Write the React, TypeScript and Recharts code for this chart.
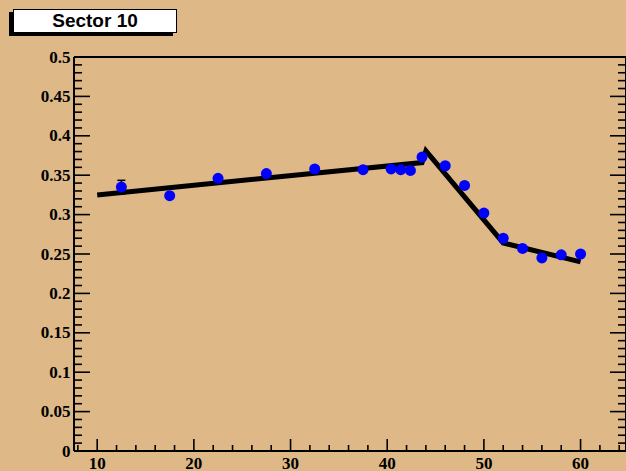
import React from "react";
import { ComposedChart, XAxis, YAxis, Scatter, Line, ErrorBar } from "recharts";

// measured points (blue markers)
const POINT_X = [12.5, 17.5, 22.5, 27.5, 32.5, 37.5, 40.4, 41.4, 42.4, 43.6, 46, 48, 50, 52, 54, 56, 58, 60];
const POINT_Y = [0.335, 0.324, 0.346, 0.352, 0.358, 0.357, 0.358, 0.357, 0.356, 0.373, 0.362, 0.337, 0.302, 0.270, 0.257, 0.245, 0.249, 0.250];
const POINT_ERR = [0.0085, 0.004, 0.004, 0.004, 0.004, 0.004, 0.003, 0.003, 0.003, 0.004, 0.004, 0.004, 0.004, 0.004, 0.004, 0.004, 0.004, 0.004];

// piecewise fit curve
const FIT_X = [10, 43.6, 44, 52, 60];
const FIT_Y = [0.325, 0.366, 0.381, 0.264, 0.24];

// axes
const X_DOMAIN: [number, number] = [7.6, 64.7];
const X_MAJOR = [10, 20, 30, 40, 50, 60];
const X_LABELS = ["10", "20", "30", "40", "50", "60"];
const Y_MAJOR = [0, 0.05, 0.1, 0.15, 0.2, 0.25, 0.3, 0.35, 0.4, 0.45, 0.5];
const Y_LABELS = ["0", "0.05", "0.1", "0.15", "0.2", "0.25", "0.3", "0.35", "0.4", "0.45", "0.5"];

const X_TICKS: number[] = [];
for (let v = 8; v <= 64; v += 2) X_TICKS.push(v);
const Y_TICKS: number[] = [];
for (let i = 0; i <= 50; i++) Y_TICKS.push(i / 100);

// error bars shorter than the marker radius stay hidden under the marker
const MARKER_R = 5.5;
const HIDDEN_ERR = 0.007;

const points = POINT_X.map((x, i) => ({ x, y: POINT_Y[i], err: POINT_ERR[i] }));
const barPoints = points.filter((p) => p.err > HIDDEN_ERR);
const fit = FIT_X.map((x, i) => ({ x, y: FIT_Y[i] }));

const BG = "#DEB887";
const LABEL_FONT = "'Liberation Serif', 'Times New Roman', serif";
const TICK_W = 1.6;

const near = (a: number, b: number) => Math.abs(a - b) < 1e-6;
const xLabel = (v: number) => {
  const i = X_MAJOR.findIndex((m) => near(m, v));
  return i >= 0 ? X_LABELS[i] : null;
};
const yLabel = (v: number) => {
  const i = Y_MAJOR.findIndex((m) => near(m, v));
  return i >= 0 ? Y_LABELS[i] : null;
};

function BottomTick(props: any) {
  const { x, y, payload } = props;
  const label = xLabel(payload.value);
  return (
    <g>
      <line x1={x} x2={x} y1={y} y2={y - (label ? 12 : 6)} stroke="#000" strokeWidth={TICK_W} />
      {label && (
        <text x={x} y={y + 17.5} textAnchor="middle" fontFamily={LABEL_FONT} fontWeight="bold" fontSize={17} fill="#000">
          {label}
        </text>
      )}
    </g>
  );
}

function TopTick(props: any) {
  const { x, y, payload } = props;
  const major = xLabel(payload.value) !== null;
  return <line x1={x} x2={x} y1={y} y2={y + (major ? 11 : 6)} stroke="#000" strokeWidth={TICK_W} />;
}

function LeftTick(props: any) {
  const { x, y, payload } = props;
  const label = yLabel(payload.value);
  return (
    <g>
      <line x1={x} x2={x + (label ? 16 : 8)} y1={y} y2={y} stroke="#000" strokeWidth={TICK_W} />
      {label && (
        <text x={x - 3.5} y={y + 5.5} textAnchor="end" fontFamily={LABEL_FONT} fontWeight="bold" fontSize={17} fill="#000">
          {label}
        </text>
      )}
    </g>
  );
}

function RightTick(props: any) {
  const { x, y, payload } = props;
  const major = yLabel(payload.value) !== null;
  return <line x1={x} x2={x - (major ? 16 : 8)} y1={y} y2={y} stroke="#000" strokeWidth={TICK_W} />;
}

const Marker = (p: any) => <circle cx={p.cx} cy={p.cy} r={MARKER_R} fill="#0000ff" />;
const NoMarker = () => <g />;

export default function App() {
  return (
    <div
      style={{
        position: "absolute",
        left: 0,
        top: 0,
        width: 626,
        height: 471,
        overflow: "hidden",
        background: BG,
      }}
    >
      <ComposedChart width={640} height={471} margin={{ top: 0, right: 0, bottom: 0, left: 0 }}>
        <XAxis
          xAxisId="b"
          type="number"
          dataKey="x"
          domain={X_DOMAIN}
          allowDataOverflow
          ticks={X_TICKS}
          interval={0}
          height={20}
          tickSize={0}
          tickMargin={0}
          tickLine={false}
          axisLine={{ stroke: "#000", strokeWidth: 2 }}
          tick={BottomTick}
        />
        <XAxis
          xAxisId="t"
          orientation="top"
          type="number"
          domain={X_DOMAIN}
          allowDataOverflow
          ticks={X_TICKS}
          interval={0}
          height={57}
          tickSize={0}
          tickMargin={0}
          tickLine={false}
          axisLine={{ stroke: "#000", strokeWidth: 2 }}
          tick={TopTick}
        />
        <YAxis
          yAxisId="l"
          type="number"
          dataKey="y"
          domain={[0, 0.5]}
          allowDataOverflow
          ticks={Y_TICKS}
          interval={0}
          width={74}
          tickSize={0}
          tickMargin={0}
          tickLine={false}
          axisLine={{ stroke: "#000", strokeWidth: 2 }}
          tick={LeftTick}
        />
        <YAxis
          yAxisId="r"
          orientation="right"
          type="number"
          domain={[0, 0.5]}
          allowDataOverflow
          ticks={Y_TICKS}
          interval={0}
          width={14}
          tickSize={0}
          tickMargin={0}
          tickLine={false}
          axisLine={{ stroke: "#000", strokeWidth: 2 }}
          tick={RightTick}
        />
        <Scatter xAxisId="b" yAxisId="l" data={barPoints} shape={NoMarker} isAnimationActive={false}>
          <ErrorBar dataKey="err" direction="y" width={4} stroke="#000" strokeWidth={1.5} />
        </Scatter>
        <Scatter xAxisId="b" yAxisId="l" data={points} shape={Marker} isAnimationActive={false} />
        <Line
          xAxisId="b"
          yAxisId="l"
          data={fit}
          dataKey="y"
          type="linear"
          stroke="#000"
          strokeWidth={5}
          dot={false}
          activeDot={false}
          isAnimationActive={false}
        />
      </ComposedChart>
      <div
        style={{
          position: "absolute",
          left: 13,
          top: 9,
          width: 162,
          height: 22,
          background: "#fff",
          border: "1px solid #000",
          boxShadow: "-4px 3px 0 #000",
          fontFamily: "'Liberation Sans', Arial, sans-serif",
          fontWeight: "bold",
          fontSize: 19,
          lineHeight: "22px",
          textAlign: "center",
          color: "#000",
        }}
      >
        Sector 10
      </div>
    </div>
  );
}
